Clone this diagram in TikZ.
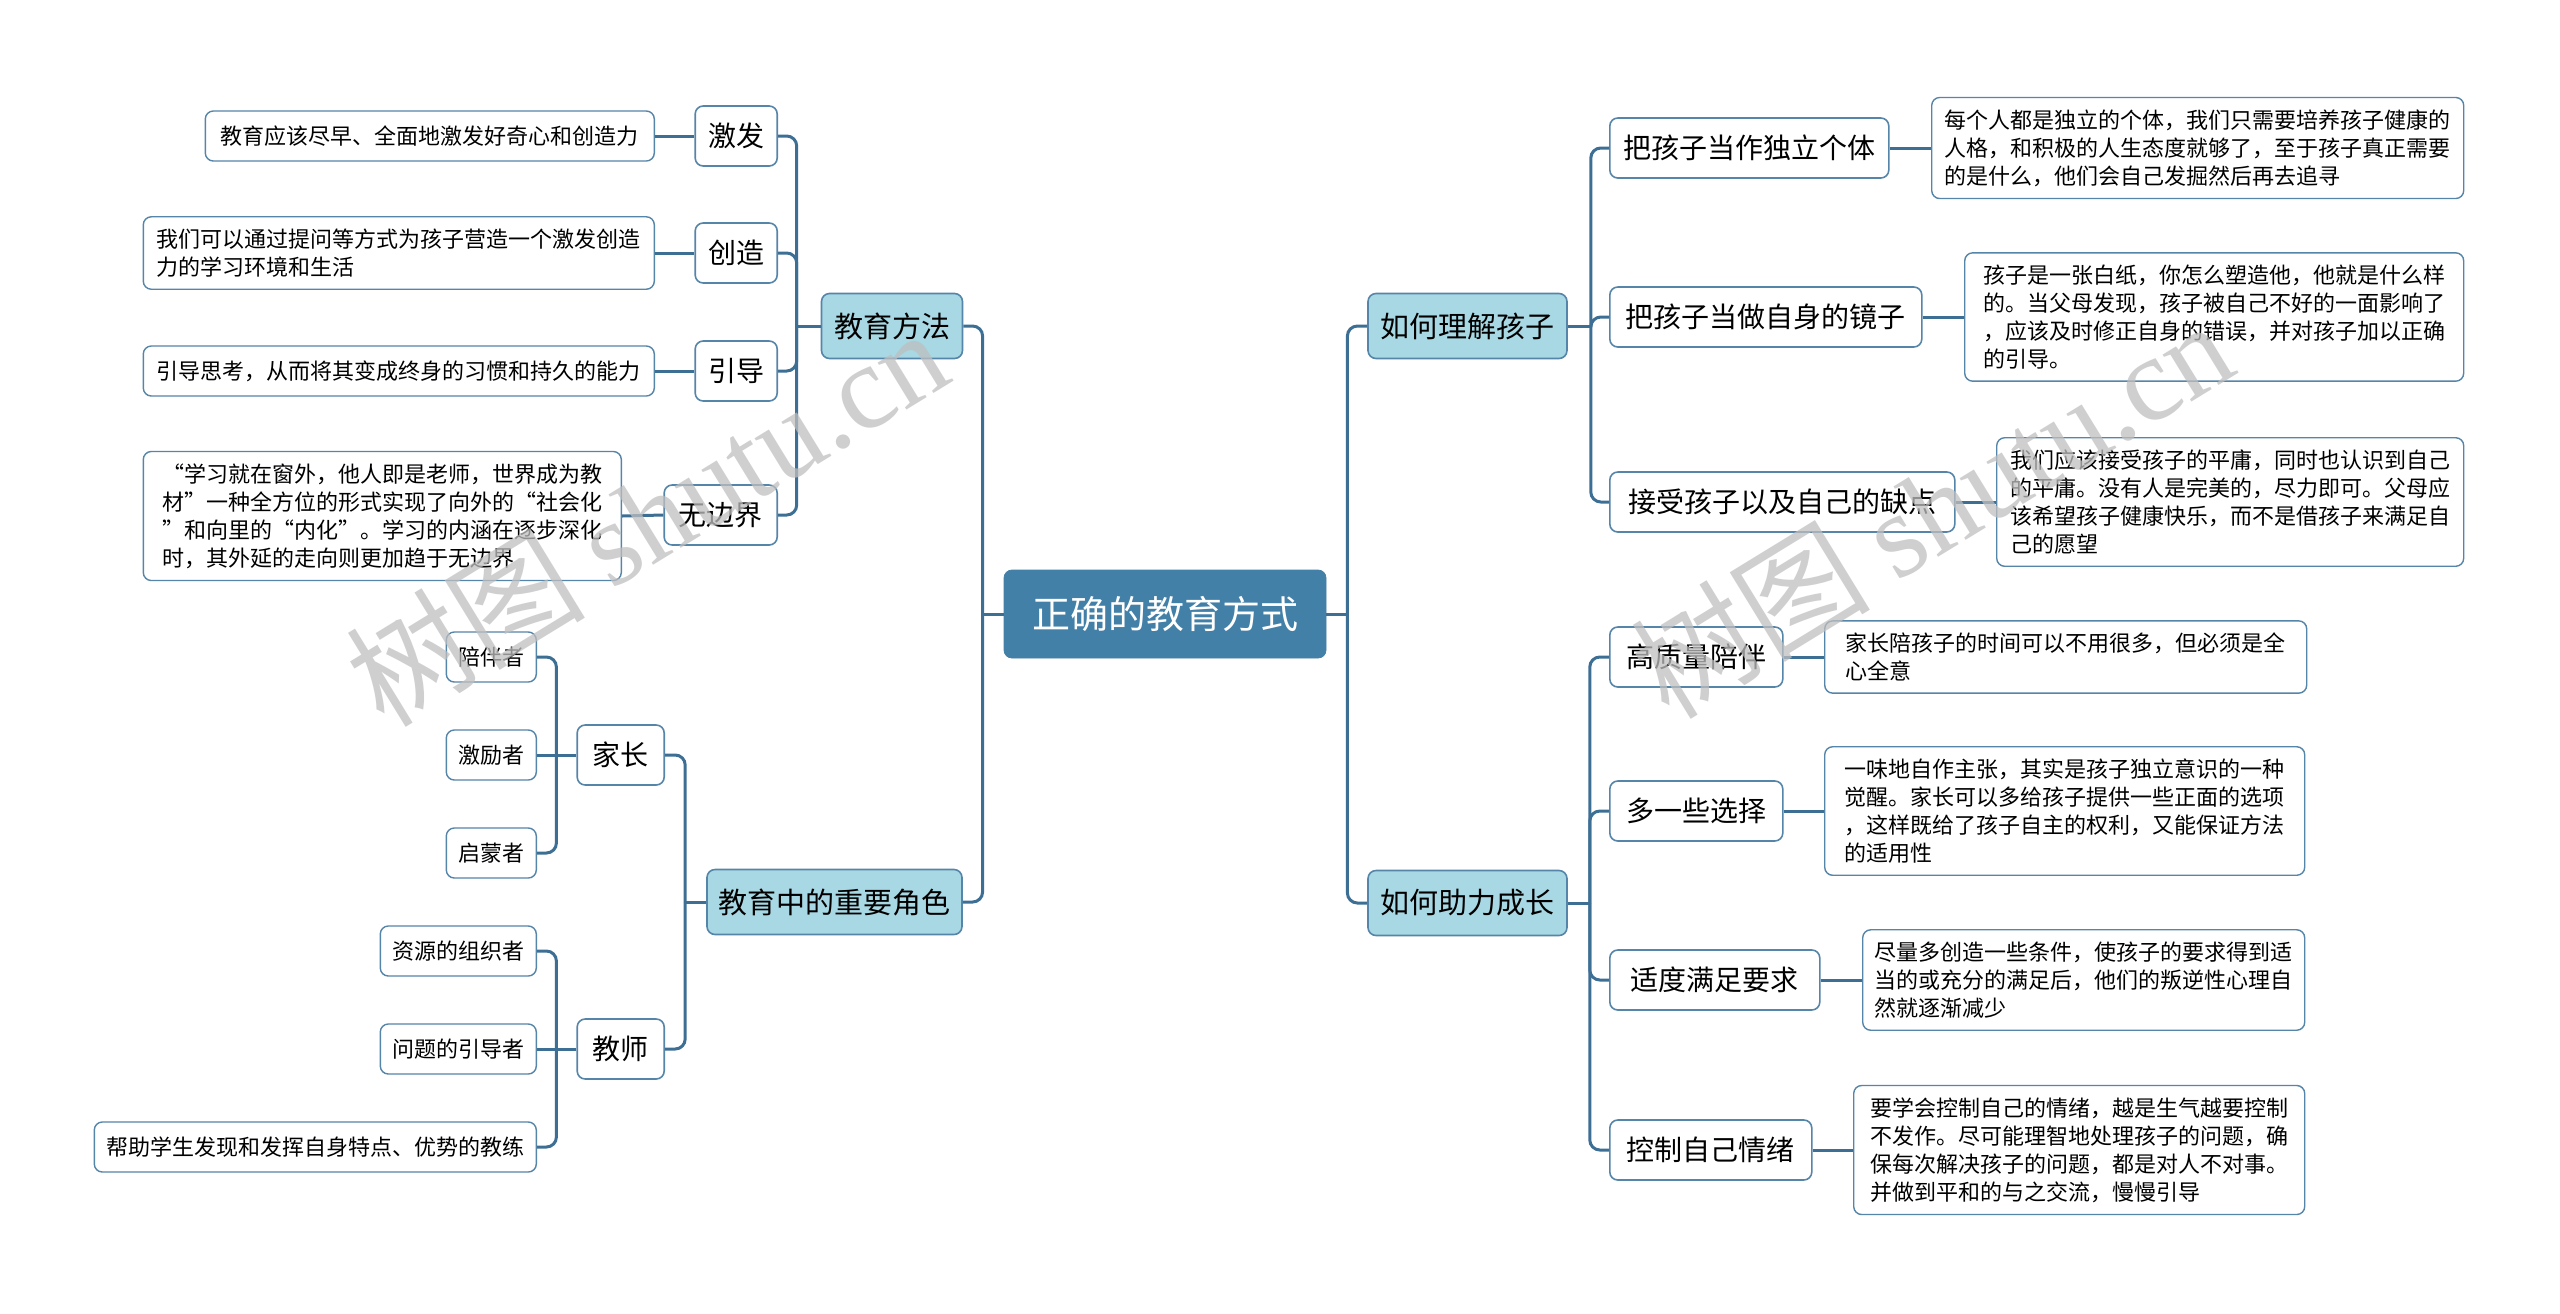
\documentclass[tikz,border=0pt]{standalone}
\usepackage{fontspec}
\setmainfont{Noto Sans CJK SC}
\newfontfamily\wmlatin{Liberation Serif}
\usepackage{tikz}
\definecolor{rootblue}{HTML}{4380A8}
\definecolor{topicblue}{HTML}{A7D8E3}
\definecolor{linkblue}{HTML}{3D6F95}
\definecolor{edgeblue}{HTML}{5585A8}

\begin{document}
\begin{tikzpicture}[x=0.5pt, y=-0.5pt,
  link/.style={draw=linkblue, line width=1.5pt, rounded corners=5pt},
  rootbox/.style={fill=rootblue, draw=rootblue, text=white, rounded corners=4pt, minimum height=44pt, minimum width=161pt, font=\fontsize{19}{23}\selectfont},
  topicbox/.style={fill=topicblue, draw=edgeblue, line width=0.8pt, rounded corners=4pt, minimum height=32.5pt, font=\fontsize{14.5}{17}\selectfont},
  subbox/.style={fill=white, draw=edgeblue, line width=0.8pt, rounded corners=4pt, minimum height=30pt, font=\fontsize{14}{17}\selectfont},
  leafbox/.style={fill=white, draw=edgeblue, line width=0.7pt, rounded corners=4pt, minimum height=25pt, inner xsep=6pt, inner ysep=6pt, align=left, font=\fontsize{11}{14}\selectfont},
  wmtext/.style={text=black!25, opacity=0.75, rotate=31.5, font=\fontsize{60}{60}\selectfont}]
  \fill[white] (0,0) rectangle (2560,1313);
  \node[rootbox] (root) at (1165,614) {正确的教育方式};
  \node[topicbox, minimum width=70.5pt] (fangfa) at (892,326) {教育方法};
  \node[topicbox, minimum width=127.5pt] (juese) at (834.5,902) {教育中的重要角色};
  \node[topicbox, minimum width=99.5pt] (lijie) at (1467.5,326) {如何理解孩子};
  \node[topicbox, minimum width=99.5pt] (zhuli) at (1467.5,903) {如何助力成长};

  \node[subbox, minimum width=41pt, anchor=east] (jifa) at (778,136) {激发};
  \node[subbox, minimum width=41pt, anchor=east] (chuangzao) at (778,253) {创造};
  \node[subbox, minimum width=41pt, anchor=east] (yindao) at (778,371) {引导};
  \node[subbox, minimum width=56.5pt, anchor=east] (wubianjie) at (778,515) {无边界};
  \node[subbox, minimum width=43.5pt, anchor=east] (jiazhang) at (665,755) {家长};
  \node[subbox, minimum width=43.5pt, anchor=east] (jiaoshi) at (665,1049) {教师};

  \node[subbox, minimum width=139.5pt, anchor=west] (duli) at (1609,148) {把孩子当作独立个体};
  \node[subbox, minimum width=156pt, anchor=west] (jingzi) at (1609,317) {把孩子当做自身的镜子};
  \node[subbox, minimum width=172.5pt, anchor=west] (quedian) at (1609,502) {接受孩子以及自己的缺点};
  \node[subbox, minimum width=86.5pt, anchor=west] (peiban) at (1609,657) {高质量陪伴};
  \node[subbox, minimum width=86.5pt, anchor=west] (xuanze) at (1609,811) {多一些选择};
  \node[subbox, minimum width=105pt, anchor=west] (manzu) at (1609,980) {适度满足要求};
  \node[subbox, minimum width=101pt, anchor=west] (qingxu) at (1609,1150) {控制自己情绪};

  \node[leafbox, minimum width=224.5pt, anchor=east] (jifa-t) at (655,136) {教育应该尽早、全面地激发好奇心和创造力};
  \node[leafbox, minimum width=255.5pt, anchor=east] (chuangzao-t) at (655,253) {我们可以通过提问等方式为孩子营造一个激发创造\\力的学习环境和生活};
  \node[leafbox, minimum width=255.5pt, anchor=east] (yindao-t) at (655,371) {引导思考，从而将其变成终身的习惯和持久的能力};
  \node[leafbox, minimum width=239pt, anchor=east] (wubianjie-t) at (622,516) {“学习就在窗外，他人即是老师，世界成为教\\材”一种全方位的形式实现了向外的“社会化\\”和向里的“内化”。学习的内涵在逐步深化\\时，其外延的走向则更加趋于无边界};
  \node[leafbox, minimum width=43.5pt, anchor=east] (pei) at (537,657) {陪伴者};
  \node[leafbox, minimum width=43.5pt, anchor=east] (li) at (537,755) {激励者};
  \node[leafbox, minimum width=43.5pt, anchor=east] (meng) at (537,853) {启蒙者};
  \node[leafbox, minimum width=77pt, anchor=east] (ziyuan) at (537,951) {资源的组织者};
  \node[leafbox, minimum width=77pt, anchor=east] (wenti) at (537,1049) {问题的引导者};
  \node[leafbox, minimum width=220.5pt, anchor=east] (jiaolian) at (537,1147) {帮助学生发现和发挥自身特点、优势的教练};

  \node[leafbox, minimum width=266pt, anchor=west] (duli-t) at (1931,148) {每个人都是独立的个体，我们只需要培养孩子健康的\\人格，和积极的人生态度就够了，至于孩子真正需要\\的是什么，他们会自己发掘然后再去追寻};
  \node[leafbox, minimum width=249.5pt, anchor=west] (jingzi-t) at (1964,317) {孩子是一张白纸，你怎么塑造他，他就是什么样\\的。当父母发现，孩子被自己不好的一面影响了\\，应该及时修正自身的错误，并对孩子加以正确\\的引导。};
  \node[leafbox, minimum width=233.5pt, anchor=west] (quedian-t) at (1996,502) {我们应该接受孩子的平庸，同时也认识到自己\\的平庸。没有人是完美的，尽力即可。父母应\\该希望孩子健康快乐，而不是借孩子来满足自\\己的愿望};
  \node[leafbox, minimum width=241pt, anchor=west] (peiban-t) at (1824,657) {家长陪孩子的时间可以不用很多，但必须是全\\心全意};
  \node[leafbox, minimum width=240pt, anchor=west] (xuanze-t) at (1824,811) {一味地自作主张，其实是孩子独立意识的一种\\觉醒。家长可以多给孩子提供一些正面的选项\\，这样既给了孩子自主的权利，又能保证方法\\的适用性};
  \node[leafbox, minimum width=221pt, anchor=west] (manzu-t) at (1862,980) {尽量多创造一些条件，使孩子的要求得到适\\当的或充分的满足后，他们的叛逆性心理自\\然就逐渐减少};
  \node[leafbox, minimum width=225.5pt, anchor=west] (qingxu-t) at (1853,1150) {要学会控制自己的情绪，越是生气越要控制\\不发作。尽可能理智地处理孩子的问题，确\\保每次解决孩子的问题，都是对人不对事。\\并做到平和的与之交流，慢慢引导};

  \draw[link] (root.west) -- ++(-21,0) coordinate (rootL);
  \draw[link] (rootL) |- (fangfa.east);
  \draw[link] (rootL) |- (juese.east);
  \draw[link] (root.east) -- ++(21,0) coordinate (rootR);
  \draw[link] (rootR) |- (lijie.west);
  \draw[link] (rootR) |- (zhuli.west);

  \draw[link] (fangfa.west) -- ++(-24,0) coordinate (fangfaL);
  \draw[link] (fangfaL) |- (jifa.east);
  \draw[link] (fangfaL) |- (chuangzao.east);
  \draw[link] (fangfaL) |- (yindao.east);
  \draw[link] (fangfaL) |- (wubianjie.east);
  \draw[link] (juese.west) -- ++(-21,0) coordinate (jueseL);
  \draw[link] (jueseL) |- (jiazhang.east);
  \draw[link] (jueseL) |- (jiaoshi.east);
  \draw[link] (jiazhang.west) -- (li.east);
  \path (jiazhang.west) ++(-20,0) coordinate (jiazhangL);
  \draw[link] (jiazhangL) |- (pei.east);
  \draw[link] (jiazhangL) |- (meng.east);
  \draw[link] (jiaoshi.west) -- (wenti.east);
  \path (jiaoshi.west) ++(-20,0) coordinate (jiaoshiL);
  \draw[link] (jiaoshiL) |- (ziyuan.east);
  \draw[link] (jiaoshiL) |- (jiaolian.east);

  \draw[link] (lijie.east) -- ++(23,0) coordinate (lijieR);
  \draw[link] (lijieR) |- (duli.west);
  \draw[link] (lijieR) |- (jingzi.west);
  \draw[link] (lijieR) |- (quedian.west);
  \draw[link] (zhuli.east) -- ++(22,0) coordinate (zhuliR);
  \draw[link] (zhuliR) |- (peiban.west);
  \draw[link] (zhuliR) |- (xuanze.west);
  \draw[link] (zhuliR) |- (manzu.west);
  \draw[link] (zhuliR) |- (qingxu.west);

  \draw[link] (jifa.west) -- (jifa-t.east);
  \draw[link] (chuangzao.west) -- (chuangzao-t.east);
  \draw[link] (yindao.west) -- (yindao-t.east);
  \draw[link] (wubianjie.west) -- (wubianjie-t.east);
  \draw[link] (duli.east) -- (duli-t.west);
  \draw[link] (jingzi.east) -- (jingzi-t.west);
  \draw[link] (quedian.east) -- (quedian-t.west);
  \draw[link] (peiban.east) -- (peiban-t.west);
  \draw[link] (xuanze.east) -- (xuanze-t.west);
  \draw[link] (manzu.east) -- (manzu-t.west);
  \draw[link] (qingxu.east) -- (qingxu-t.west);

  \node[wmtext] (wmleft) at (646,516) {树图 {\wmlatin shutu.cn}};
  \node[wmtext] (wmright) at (1931,508) {树图 {\wmlatin shutu.cn}};
\end{tikzpicture}
\end{document}
